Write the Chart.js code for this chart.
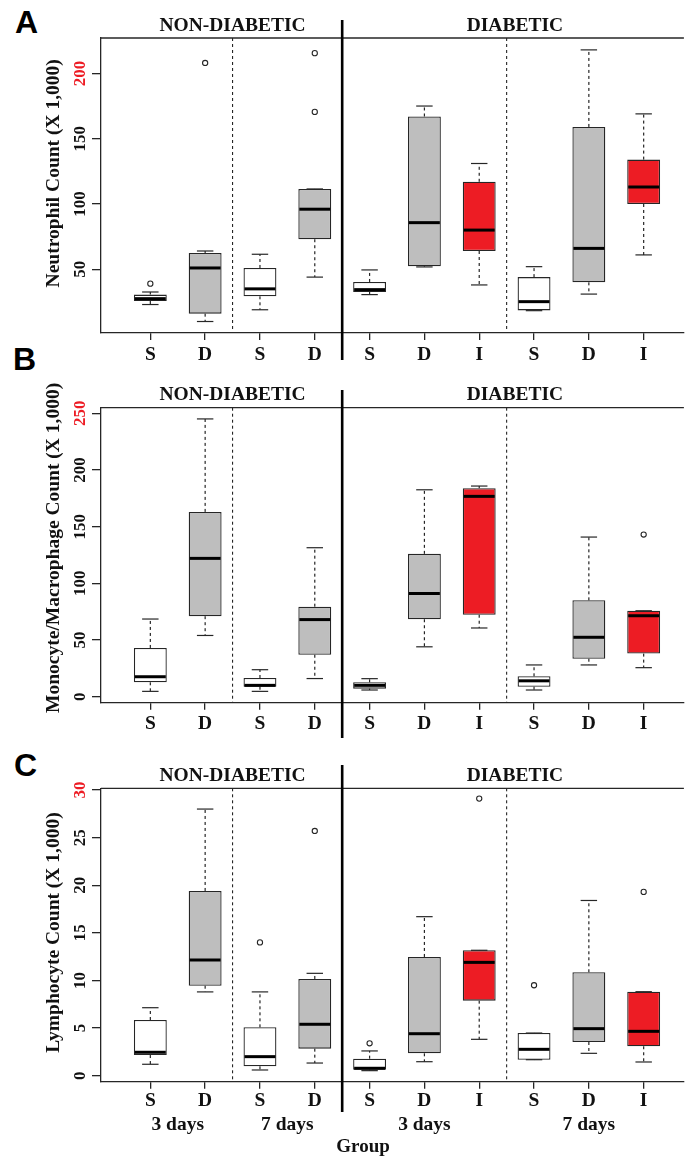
<!DOCTYPE html>
<html lang="en">
<head>
  <meta charset="UTF-8" />
  <title>Leukocyte counts - box plots</title>
  <script src="https://cdn.jsdelivr.net/npm/chart.js"></script>
  <style>
    html, body { margin: 0; padding: 0; background: #fff; }
    body { width: 689px; height: 1161px; position: relative; overflow: hidden; }
    canvas { position: absolute; left: 0; }
    .letter { position: absolute; font: bold 32px "Liberation Sans", Arial, sans-serif; line-height: 1; color: #000; }
  </style>
</head>
<body>
  <div class="letter" style="left:15px;top:6px">A</div>
  <div class="letter" style="left:13px;top:343px">B</div>
  <div class="letter" style="left:14px;top:749px">C</div>

  <canvas id="panelA" width="689" height="380" style="top:0"></canvas>
  <canvas id="panelB" width="689" height="390" style="top:380px"></canvas>
  <canvas id="panelC" width="689" height="401" style="top:760px"></canvas>

  <script>
    // groups along the x axis: non-diabetic 3d (S,D), 7d (S,D), diabetic 3d (S,D,I), 7d (S,D,I)
    const groups = ['S', 'D', 'S', 'D', 'S', 'D', 'I', 'S', 'D', 'I'];
    const dayLabels = ['3 days', '7 days', '3 days', '7 days'];

    // A - neutrophils
    const neutLow  = [23, 10, 19, 44, 30.6, 51.8, 38, 18.3, 31, 61];
    const neutQ1   = [25.7, 16, 29.3, 73, 32.6, 52.3, 64, 18.5, 40, 100];
    const neutMed  = [27.5, 51, 35, 96, 34.4, 85.7, 80, 25.2, 66, 113];
    const neutQ3   = [30.6, 62.5, 51, 111.5, 40.3, 167, 117, 44, 159, 134];
    const neutHigh = [32.6, 64, 61.5, 111.5, 49.5, 175, 131, 52, 218, 169];
    const neutOut  = [[39], [208], [], [170.5, 215.5], [], [], [], [], [], []];
    const neutTicks = [50, 100, 150, 200];

    // B - monocytes / macrophages
    const monoLow  = [4.7, 54, 4.7, 16, 5.9, 44, 60.6, 5.9, 28, 25.6];
    const monoQ1   = [12.7, 71, 8.8, 37, 7.1, 68.3, 72.3, 8.8, 33.5, 38];
    const monoMed  = [17.6, 122, 10, 68, 10, 91, 176.7, 14, 52.4, 71.4];
    const monoQ3   = [43, 163, 16.5, 79.4, 12.7, 126, 183.8, 18, 85, 75.8];
    const monoHigh = [68.5, 245, 23.8, 131.4, 15.9, 182.5, 185.8, 28, 140.8, 75.8];
    const monoOut  = [[], [], [], [], [], [], [], [], [], [143]];
    const monoTicks = [0, 50, 100, 150, 200, 250];

    // C - lymphocytes
    const lymLow  = [1.2, 8.8, 0.6, 1.33, 0.53, 1.47, 3.82, 1.68, 2.35, 1.44];
    const lymQ1   = [2.17, 9.45, 0.99, 2.84, 0.63, 2.35, 7.88, 1.68, 3.54, 3.09];
    const lymMed  = [2.46, 12.15, 2.0, 5.4, 0.78, 4.41, 11.9, 2.77, 4.94, 4.66];
    const lymQ3   = [5.85, 19.4, 5.08, 10.16, 1.79, 12.47, 13.17, 4.48, 10.86, 8.82];
    const lymHigh = [7.14, 28, 8.8, 10.75, 2.6, 16.7, 13.17, 4.48, 18.4, 8.82];
    const lymOut  = [[], [], [14], [25.7], [3.4], [], [29.1], [9.5], [], [19.3]];
    const lymTicks = [0, 5, 10, 15, 20, 25, 30];

    const fillFor = { S: '#ffffff', D: '#bebebe', I: '#ed1c24' };
    const edge = '#262626';
    const ink = '#111';
    const red = '#ed1c24';
    const serif = '"Liberation Serif", "Times New Roman", serif';

    function line(ctx, x1, y1, x2, y2) {
      ctx.beginPath();
      ctx.moveTo(x1, y1);
      ctx.lineTo(x2, y2);
      ctx.stroke();
    }

    // whiskers, medians and the frame around each panel
    function boxParts(p) {
      return {
        id: 'boxParts',
        beforeDatasetsDraw(chart) {
          const { ctx, scales: { x, y } } = chart;
          const bars = chart.getDatasetMeta(0).data;
          ctx.save();
          ctx.strokeStyle = edge;
          ctx.lineWidth = 1.2;
          p.low.forEach((lo, i) => {
            const cx = x.getPixelForValue(i + 1);
            const half = bars[i].width / 4;
            ctx.setLineDash([3, 3]);
            line(ctx, cx, y.getPixelForValue(p.q3[i]), cx, y.getPixelForValue(p.high[i]));
            line(ctx, cx, y.getPixelForValue(p.q1[i]), cx, y.getPixelForValue(lo));
            ctx.setLineDash([]);
            line(ctx, cx - half, y.getPixelForValue(p.high[i]), cx + half, y.getPixelForValue(p.high[i]));
            line(ctx, cx - half, y.getPixelForValue(lo), cx + half, y.getPixelForValue(lo));
          });
          ctx.restore();
        },
        afterDatasetsDraw(chart) {
          const { ctx, scales: { x, y } } = chart;
          const bars = chart.getDatasetMeta(0).data;
          ctx.save();
          ctx.strokeStyle = '#000';
          ctx.lineWidth = 3;
          p.med.forEach((m, i) => {
            const cx = x.getPixelForValue(i + 1);
            const half = bars[i].width / 2 - 1;
            line(ctx, cx - half, y.getPixelForValue(m), cx + half, y.getPixelForValue(m));
          });
          ctx.restore();
        },
        afterDraw(chart) {
          const { ctx, chartArea: { left, right, top, bottom }, scales: { x } } = chart;
          ctx.save();
          ctx.strokeStyle = edge;
          ctx.lineWidth = 1.3;
          line(ctx, left, top, right, top);

          ctx.lineWidth = 1.1;
          ctx.setLineDash([3, 3]);
          [2.5, 7.5].forEach(v => line(ctx, x.getPixelForValue(v), top, x.getPixelForValue(v), bottom));
          ctx.setLineDash([]);

          ctx.strokeStyle = '#000';
          ctx.lineWidth = 2.6;
          line(ctx, x.getPixelForValue(4.5), p.divider[0], x.getPixelForValue(4.5), p.divider[1]);

          ctx.fillStyle = ink;
          ctx.textAlign = 'center';
          ctx.textBaseline = 'middle';
          ctx.font = 'bold 19.5px ' + serif;
          ctx.fillText('NON-DIABETIC', x.getPixelForValue(2.5), top - 12.5);
          ctx.fillText('DIABETIC', x.getPixelForValue(7.65), top - 12.5);

          if (p.showDays) {
            [1.5, 3.5, 6, 9].forEach((v, i) => ctx.fillText(dayLabels[i], x.getPixelForValue(v), bottom + 43.5));
            ctx.font = 'bold 19px ' + serif;
            ctx.fillText('Group', x.getPixelForValue(4.88), bottom + 65.5);
          }
          ctx.restore();
        }
      };
    }

    function makePanel(id, p) {
      const canvas = document.getElementById(id);
      const outliers = p.out.flatMap((vals, i) => vals.map(v => ({ x: i + 1, y: v })));
      const topTick = p.ticks[p.ticks.length - 1];

      return new Chart(canvas, {
        type: 'bar',
        data: {
          datasets: [
            {
              data: groups.map((g, i) => ({ x: i + 1, y: [p.q1[i], p.q3[i]] })),
              backgroundColor: groups.map(g => fillFor[g]),
              borderColor: edge,
              borderWidth: 1.3,
              borderSkipped: false,
              barPercentage: 0.6,
              categoryPercentage: 1
            },
            {
              type: 'scatter',
              data: outliers,
              pointRadius: 2.6,
              pointBorderWidth: 1.1,
              pointBackgroundColor: '#fff',
              pointBorderColor: edge
            }
          ]
        },
        options: {
          responsive: false,
          animation: false,
          events: [],
          layout: { padding: { top: p.top, left: 0, right: 0, bottom: 0 } },
          plugins: { legend: { display: false }, tooltip: { enabled: false } },
          scales: {
            x: {
              type: 'linear',
              min: 0.1,
              max: 10.734,
              offset: false,
              afterBuildTicks: s => { s.ticks = groups.map((g, i) => ({ value: i + 1 })); },
              afterFit: s => { s.height = canvas.height - p.bottom; },
              border: { display: true, color: edge, width: 1.3 },
              grid: { offset: false, drawOnChartArea: false, drawTicks: true, tickLength: 7, color: edge, lineWidth: 1.3 },
              ticks: {
                autoSkip: false,
                maxRotation: 0,
                padding: p.xPad,
                color: ink,
                font: { family: serif, size: 19.5, weight: 'bold' },
                callback: (v, i) => groups[i]
              }
            },
            y: {
              type: 'linear',
              min: p.min,
              max: p.max,
              beginAtZero: false,
              afterBuildTicks: s => { s.ticks = p.ticks.map(v => ({ value: v })); },
              afterFit: s => { s.width = 101; },
              border: { display: true, color: edge, width: 1.3 },
              grid: { drawOnChartArea: false, drawTicks: true, tickLength: 9, color: edge, lineWidth: 1.3 },
              ticks: {
                minRotation: 90,
                maxRotation: 90,
                crossAlign: 'center',
                padding: p.yPad,
                font: { family: serif, size: 17, weight: 'bold' },
                color: c => (c.tick && c.tick.value === topTick ? red : ink)
              },
              title: {
                display: true,
                text: p.title,
                color: ink,
                font: { family: serif, size: 19.5, weight: 'bold' },
                padding: { top: 42, bottom: 0 }
              }
            }
          }
        },
        plugins: [boxParts(p)]
      });
    }

    makePanel('panelA', {
      low: neutLow, q1: neutQ1, med: neutMed, q3: neutQ3, high: neutHigh, out: neutOut,
      ticks: neutTicks, min: 1.2, max: 227.1,
      title: '     Neutrophil Count (X 1,000)',
      top: 38, bottom: 333, xPad: 3.3, yPad: -1.8, divider: [20, 360]
    });

    makePanel('panelB', {
      low: monoLow, q1: monoQ1, med: monoMed, q3: monoQ3, high: monoHigh, out: monoOut,
      ticks: monoTicks, min: -5.3, max: 254.9,
      title: '   Monocyte/Macrophage Count (X 1,000)',
      top: 27.7, bottom: 322.7, xPad: 2.6, yPad: -1.8, divider: [10, 358]
    });

    makePanel('panelC', {
      low: lymLow, q1: lymQ1, med: lymMed, q3: lymQ3, high: lymHigh, out: lymOut,
      ticks: lymTicks, min: -0.63, max: 30.18,
      title: ' Lymphocyte Count (X 1,000)',
      top: 28.3, bottom: 321.7, xPad: 0.3, yPad: 2.5, divider: [5, 352], showDays: true
    });
  </script>
</body>
</html>
